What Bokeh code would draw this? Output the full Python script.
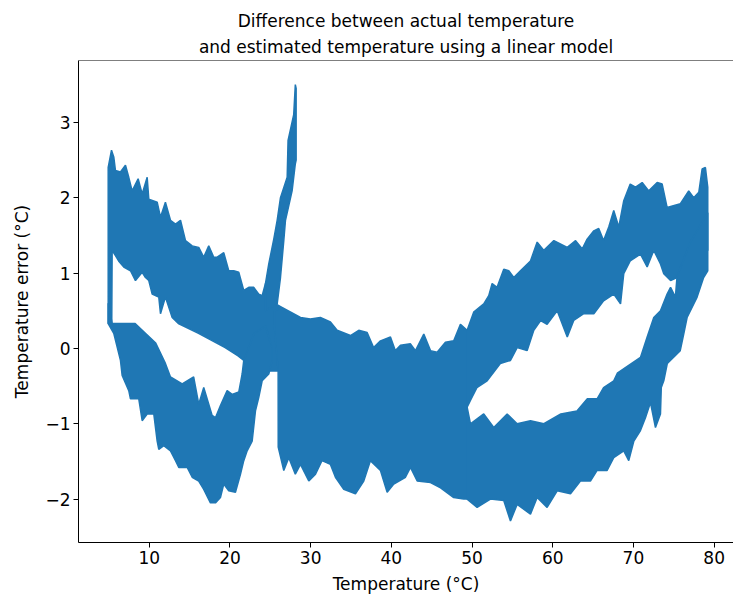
from bokeh.plotting import figure
from bokeh.models import Range1d, Title, Span, FixedTicker
from bokeh.embed import file_html
from bokeh.resources import INLINE

BLUE = "#1f77b4"
FONT = "DejaVu Sans"

title_line1 = "Difference between actual temperature"
title_line2 = "and estimated temperature using a linear model"
x_label = "Temperature (°C)"
y_label = "Temperature error (°C)"

x_ticks = [10, 20, 30, 40, 50, 60, 70, 80]
y_ticks = [-2, -1, 0, 1, 2, 3]
y_tick_labels = ["−2", "−1", "0", "1", "2", "3"]

# Envelopes of the (very noisy) error trace.
# Upper-left branch
a_top_x = [4.91, 5.32, 5.6, 5.81, 6.43, 7.05, 7.46, 7.88, 8.62, 9.12, 9.74, 9.94, 10.98, 11.39, 12.0,
           12.63, 13.25, 13.87, 14.49, 15.32, 16.13, 16.75, 17.37, 17.99, 18.41, 19.23, 19.85, 20.47,
           21.09, 21.71, 22.33, 22.95, 23.57, 23.99, 24.4, 25.5, 26.5]
a_top_y = [2.40, 2.63, 2.54, 2.36, 2.34, 2.43, 2.27, 2.09, 2.25, 2.05, 2.27, 1.98, 1.94, 1.74, 1.94,
           1.70, 1.65, 1.70, 1.43, 1.36, 1.34, 1.21, 1.36, 1.21, 1.21, 1.27, 1.03, 1.03,
           1.01, 0.77, 0.81, 0.81, 0.72, 0.70, 0.86, 0.6, 0.54]
a_bot_x = [4.91, 5.35, 5.4, 5.81, 6.2, 6.84, 7.67, 8.29, 9.12, 9.53, 9.94, 10.36, 11.18, 11.39, 12.0,
           12.84, 13.6, 16.1, 19.4, 21.0, 21.71, 23.0, 26.5]
a_bot_y = [0.33, 0.33, 1.30, 1.23, 1.16, 1.08, 1.03, 0.90, 1.01, 0.94, 0.90, 0.72, 0.68, 0.46, 0.68,
           0.41, 0.33, 0.2, 0.01, -0.1, -0.16, -0.3, -0.3]

# Lower-left branch
b_top_x = [4.91, 5.4, 8.25, 10.8, 12.0, 12.63, 14.08, 15.5, 16.13, 16.75, 17.79, 18.2, 18.82, 19.65,
           20.27, 21.09, 21.51, 21.71, 23.0, 24.4, 25.23]
b_top_y = [0.6, 0.33, 0.33, 0.07, -0.2, -0.38, -0.47, -0.38, -0.74, -0.52, -0.89, -0.92, -0.76, -0.56,
           -0.61, -0.58, -0.34, -0.16, 0.2, 0.3, 0.0]
b_bot_x = [4.91, 5.6, 6.43, 6.64, 7.46, 7.67, 8.7, 9.12, 9.74, 10.56, 10.98, 11.18, 11.8, 12.63, 13.25,
           13.66, 14.70, 15.32, 16.13, 16.75, 17.58, 18.2, 18.82, 19.23, 19.85, 20.68, 21.3, 21.71,
           22.13, 22.75, 23.16, 23.57, 23.99, 24.81, 25.23]
b_bot_y = [0.33, 0.2, -0.16, -0.36, -0.56, -0.67, -0.67, -0.96, -0.87, -0.87, -1.23, -1.34, -1.29, -1.36, -1.49,
           -1.58, -1.58, -1.71, -1.76, -1.87, -2.05, -2.05, -1.98, -1.80, -1.89, -1.91, -1.67, -1.49,
           -1.36, -1.23, -0.83, -0.65, -0.43, -0.34, -0.16]

# Spike near 28 °C
s_top_x = [24.4, 24.81, 25.43, 25.85, 26.26, 27.09, 27.2, 27.9, 28.1, 28.2]
s_top_y = [0.86, 1.12, 1.45, 1.70, 2.0, 2.27, 2.76, 3.1, 3.5, 3.45]
s_bot_x = [24.4, 25.85, 26.26, 26.67, 26.88, 27.7, 28.1, 28.2]
s_bot_y = [0.5, 0.59, 0.94, 1.43, 1.70, 2.09, 2.45, 2.5]

# Central merged band
c_top_x = [25.5, 26.5, 28.74, 29.97, 31.2, 32.45, 33.28, 34.93, 35.96, 37.0, 37.8, 38.65, 39.89, 40.5,
           41.13, 42.37, 42.99, 44.02, 44.85, 45.67, 46.7, 47.73, 48.56, 49.39]
c_top_y = [0.5, 0.54, 0.41, 0.39, 0.41, 0.35, 0.24, 0.17, 0.24, 0.21, 0.01, 0.10, 0.15, -0.03,
           0.04, 0.06, -0.03, 0.19, -0.03, -0.05, 0.08, 0.10, 0.32, 0.24]
c_bot_x = [25.5, 25.97, 25.98, 26.67, 27.29, 28.1, 28.74, 29.77, 30.6, 31.4, 32.45, 33.07, 34.1, 35.55,
           36.58, 37.4, 38.65, 39.48, 40.3, 41.75, 42.37, 43.2, 44.85, 46.1, 47.73, 48.97, 49.39]
c_bot_y = [0.3, -0.3, -1.31, -1.62, -1.45, -1.67, -1.54, -1.76, -1.67, -1.49, -1.54, -1.71, -1.87, -1.93,
           -1.76, -1.49, -1.62, -1.91, -1.80, -1.71, -1.58, -1.76, -1.78, -1.85, -1.98, -2.0, -2.0]

# Upper-right branch
u_top_x = [49.39, 50.2, 51.45, 52.07, 52.49, 53.1, 53.93, 54.55, 55.17, 56.0, 57.24, 58.07, 58.9, 60.14,
           61.8, 62.83, 63.66, 64.26, 65.09, 65.7, 66.3, 66.94, 67.56, 68.18, 68.8, 69.6, 70.26, 71.08,
           71.9, 72.94, 73.56, 74.17, 75.82, 76.85, 77.47, 78.1, 78.51, 78.92, 79.21]
u_top_y = [0.24, 0.48, 0.59, 0.70, 0.86, 0.81, 1.05, 1.03, 0.94, 1.03, 1.16, 1.41, 1.30, 1.43,
           1.34, 1.43, 1.32, 1.45, 1.56, 1.59, 1.43, 1.61, 1.83, 1.61, 1.96, 2.18, 2.14, 2.20,
           2.09, 2.20, 2.18, 1.87, 1.92, 2.09, 2.0, 2.07, 2.38, 2.40, 2.14]
u_bot_x = [49.39, 49.8, 50.6, 51.87, 53.5, 54.76, 55.59, 56.83, 57.65, 58.5, 59.3, 60.55, 61.8, 62.6,
           63.84, 65.09, 66.3, 67.56, 68.4, 68.8, 69.6, 70.87, 71.7, 72.52, 73.35, 73.76, 74.6, 75.4,
           77.0, 79.21]
u_bot_y = [-0.78, -0.69, -0.52, -0.43, -0.2, -0.16, 0.01, -0.03, 0.24, 0.37, 0.32, 0.50, 0.15, 0.37,
           0.46, 0.46, 0.63, 0.72, 0.59, 0.99, 1.16, 1.25, 1.08, 1.30, 1.12, 0.99, 0.90, 0.94,
           1.2, 1.3]

# Lower-right branch
d_top_x = [49.39, 49.8, 51.45, 52.69, 54.35, 55.59, 57.24, 58.9, 61.0, 63.0, 64.26, 65.5, 66.3, 67.56,
           68.0, 70.87, 71.7, 72.52, 73.35, 74.17, 74.6, 75.2, 75.4, 77.0, 79.21]
d_top_y = [-0.78, -1.00, -0.87, -1.05, -0.87, -1.00, -0.96, -1.00, -0.87, -0.83, -0.67, -0.67, -0.52, -0.43,
           -0.33, -0.12, 0.15, 0.41, 0.50, 0.72, 0.81, 0.68, 0.95, 1.4, 1.8]
d_bot_x = [49.39, 50.63, 52.28, 53.93, 54.76, 55.59, 57.24, 58.07, 59.3, 60.55, 62.2, 63.43, 64.67, 65.5,
           66.74, 67.56, 68.8, 69.42, 70.05, 70.87, 71.49, 72.11, 72.73, 73.35, 73.45, 73.76, 74.2,
           75.8, 76.23, 76.65, 77.89, 78.7, 79.21]
d_bot_y = [-2.0, -2.11, -2.0, -2.02, -2.29, -2.07, -2.20, -1.98, -2.11, -1.89, -1.93, -1.76, -1.76, -1.62,
           -1.62, -1.45, -1.36, -1.49, -1.23, -1.09, -0.92, -0.72, -1.05, -0.87, -0.52, -0.43, -0.2,
           -0.03, 0.19, 0.41, 0.68, 0.94, 1.03]

bands = [
    (a_top_x, a_top_y, a_bot_x, a_bot_y),
    (b_top_x, b_top_y, b_bot_x, b_bot_y),
    (s_top_x, s_top_y, s_bot_x, s_bot_y),
    (c_top_x, c_top_y, c_bot_x, c_bot_y),
    (u_top_x, u_top_y, u_bot_x, u_bot_y),
    (d_top_x, d_top_y, d_bot_x, d_bot_y),
]

p = figure(width=733, height=599, output_backend="svg", toolbar_location=None,
           title=None,
           x_range=Range1d(1.23, 82.4), y_range=Range1d(-2.576, 3.82),
           min_border_left=78, min_border_right=0, min_border_top=60, min_border_bottom=57)

for tx, ty, bx, by in bands:
    xs = list(tx) + list(reversed(bx))
    ys = list(ty) + list(reversed(by))
    p.patch(xs, ys, fill_color=BLUE, line_color=BLUE, line_width=1.5)

p.add_layout(Title(text=title_line2, text_font=FONT, text_font_size="17px", text_color="black",
                   text_font_style="normal", align="center", standoff=7), "above")
p.add_layout(Title(text=title_line1, text_font=FONT, text_font_size="17px", text_color="black",
                   text_font_style="normal", align="center", standoff=2), "above")

p.outline_line_color = None
p.add_layout(Span(location=3.82, dimension="width", line_color="black", line_width=1))
p.xgrid.visible = False
p.ygrid.visible = False
p.background_fill_color = "white"

for ax in (p.xaxis[0], p.yaxis[0]):
    ax.axis_line_color = "black"
    ax.axis_line_width = 1
    ax.major_tick_line_color = "black"
    ax.major_tick_out = 5
    ax.major_tick_in = 0
    ax.minor_tick_line_color = None
    ax.major_label_text_font = FONT
    ax.major_label_text_font_size = "17px"
    ax.major_label_text_color = "black"
    ax.axis_label_text_font = FONT
    ax.axis_label_text_font_size = "17px"
    ax.axis_label_text_font_style = "normal"
    ax.axis_label_text_color = "black"
    ax.major_label_standoff = 3

p.xaxis.ticker = FixedTicker(ticks=x_ticks)
p.yaxis.ticker = FixedTicker(ticks=y_ticks)
p.yaxis.major_label_overrides = {t: lab for t, lab in zip(y_ticks, y_tick_labels)}
p.xaxis.axis_label = x_label
p.yaxis.axis_label = y_label
p.xaxis.axis_label_standoff = 7
p.yaxis.axis_label_standoff = 10

open("out.html", "w").write(file_html(p, INLINE))
